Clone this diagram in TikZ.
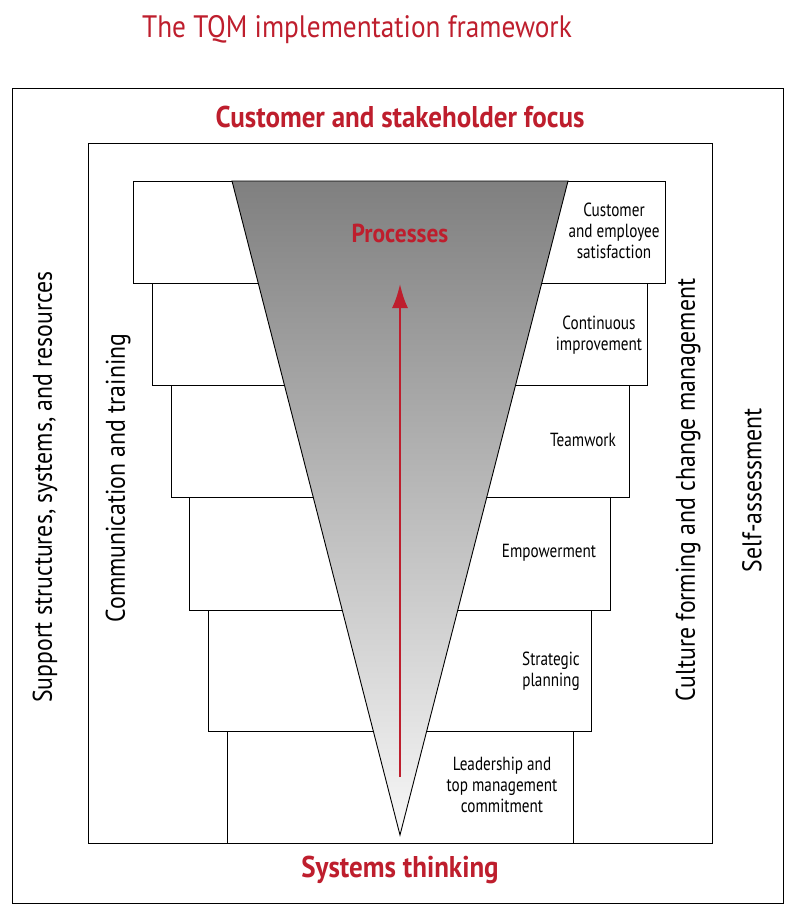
\documentclass[tikz,border=0pt]{standalone}
\usepackage{fontspec}
\usetikzlibrary{arrows.meta}
\setmainfont{PT Sans}
\definecolor{tqmred}{RGB}{190,30,45}
\begin{document}
\begin{tikzpicture}[x=1pt,y=-1pt,
  stepbox/.style={draw=black,line width=0.9pt,fill=white},
  steplbl/.style={font=\fontsize{19}{21}\selectfont\addfontfeature{FakeStretch=0.8},align=center},
  sidelbl/.style={font=\fontsize{27}{29}\selectfont\addfontfeature{FakeStretch=0.88},rotate=90},
  redlbl/.style={text=tqmred,font=\bfseries\fontsize{30}{32}\selectfont\addfontfeature{FakeStretch=0.9}}]
\useasboundingbox (0,0) rectangle (800,921);
\node[text=tqmred,font=\fontsize{31}{33}\selectfont\addfontfeature{FakeStretch=0.88}] (title) at (357,30) {The TQM implementation framework};
\draw[line width=1pt] (12,88) rectangle (783,903);
\draw[line width=1pt] (88,143) rectangle (712,843);
\node[redlbl] (cust) at (400,117) {Customer and stakeholder focus};
\node[redlbl] (sys) at (400,870) {Systems thinking};
\draw[stepbox] (133,181) rectangle (665,283);
\draw[stepbox] (152,283) rectangle (647,385);
\draw[stepbox] (171,385) rectangle (629,497);
\draw[stepbox] (189,497) rectangle (610,610);
\draw[stepbox] (208,610) rectangle (591,731);
\draw[stepbox] (227,731) rectangle (573,843);
\shade[top color=black!50,bottom color=black!3,draw=black,line width=0.9pt] (232,181) -- (568,181) -- (400,835) -- cycle;
\coordinate (abot) at (400,777);
\coordinate (atop) at (400,284);
\draw[tqmred,line width=2.2pt,-{Latex[length=24pt,width=16pt]}] (abot) -- (atop);
\node[text=tqmred,font=\bfseries\fontsize{26}{28}\selectfont\addfontfeature{FakeStretch=0.9}] (proc) at (400,233) {Processes};
\node[steplbl] (l1) at (614,231) {Customer\\and employee\\satisfaction};
\node[steplbl] (l2) at (599,335) {Continuous\\improvement};
\node[steplbl] (l3) at (583,440) {Teamwork};
\node[steplbl] (l4) at (549,553) {Empowerment};
\node[steplbl] (l5) at (551,671) {Strategic\\planning};
\node[steplbl] (l6) at (502,785) {Leadership and\\top management\\commitment};
\node[sidelbl] (s1) at (45,487) {Support structures, systems, and resources};
\node[sidelbl] (s2) at (118,478) {Communication and training};
\node[sidelbl] (s3) at (688,490) {Culture forming and change management};
\node[sidelbl] (s4) at (752,490) {Self-assessment};
\end{tikzpicture}
\end{document}
